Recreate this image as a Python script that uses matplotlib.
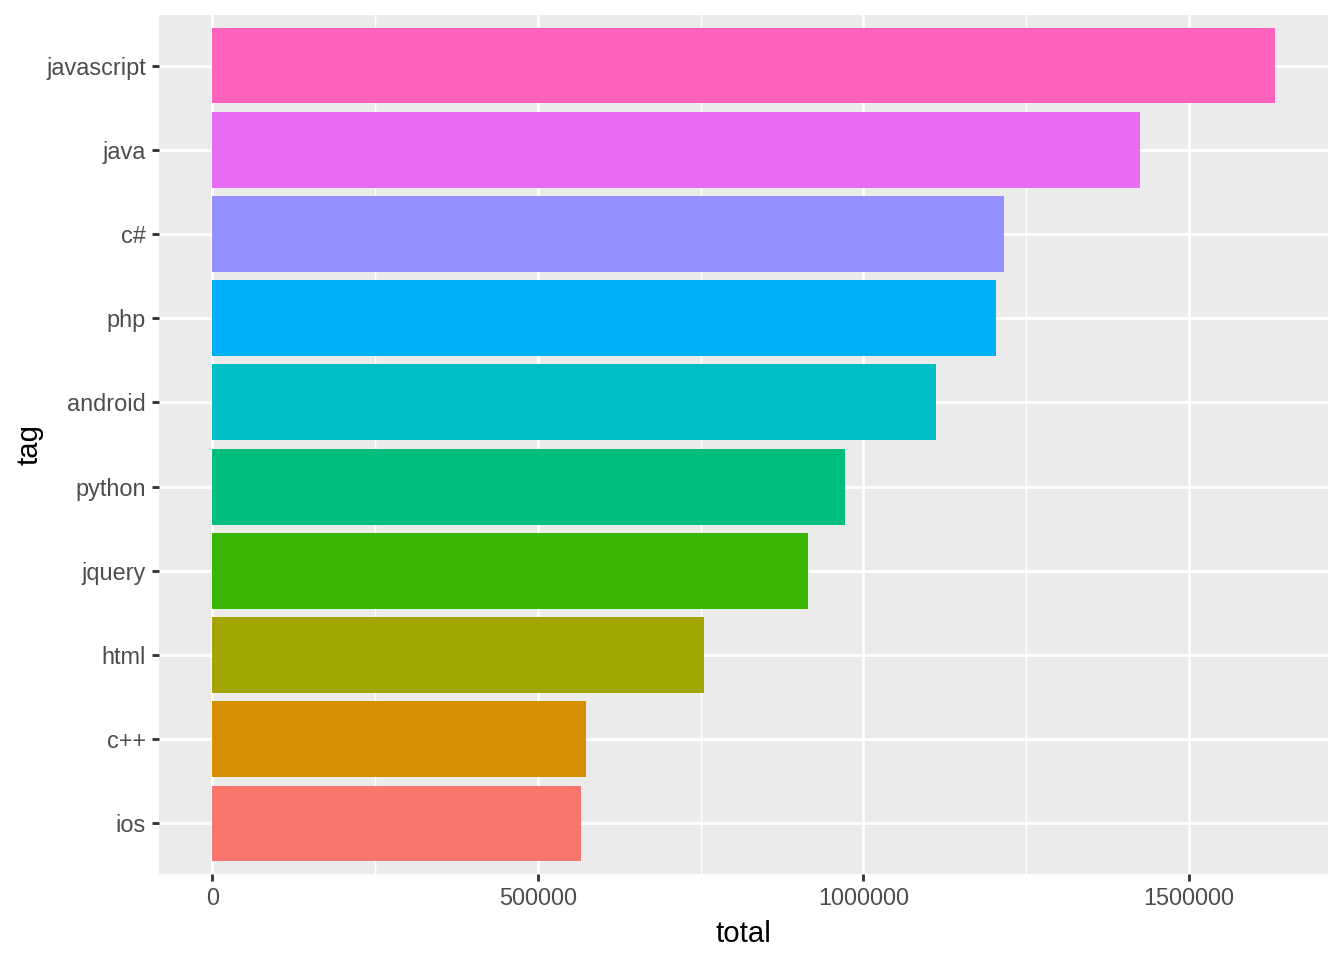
import matplotlib.pyplot as plt
from matplotlib.ticker import FixedLocator

# data (bottom to top)
tags = ["ios", "c++", "html", "jquery", "python", "android", "php", "c#", "java", "javascript"]
totals = [567000, 574600, 755400, 914800, 971500, 1110900, 1204400, 1216700, 1425000, 1632000]
colors = ["#F8766D", "#D89000", "#A3A500", "#39B600", "#00BF7D",
          "#00BFC4", "#00B0F6", "#9590FF", "#E76BF3", "#FF62BC"]

plt.rcParams['font.family'] = ['Liberation Sans', 'DejaVu Sans']

fig = plt.figure(figsize=(7, 5), dpi=192)
ax = fig.add_axes([159 / 1344, 1 - 874 / 960, (1328 - 159) / 1344, (874 - 15) / 960])
ax.set_facecolor("#EBEBEB")

pos = list(range(len(tags)))
ax.barh(pos, totals, height=0.9, color=colors, zorder=3)

xmax = max(totals)
ax.set_xlim(-0.05 * xmax, 1.05 * xmax)
ax.set_ylim(-0.6, len(tags) - 0.4)

ax.set_xticks([0, 500000, 1000000, 1500000])
ax.set_xticklabels(["0", "500000", "1000000", "1500000"])
ax.xaxis.set_minor_locator(FixedLocator([250000, 750000, 1250000]))
ax.set_yticks(pos)
ax.set_yticklabels(tags)

ax.grid(True, which="major", color="white", linewidth=1.07, zorder=1)
ax.grid(True, which="minor", axis="x", color="white", linewidth=0.53, zorder=1)
ax.set_axisbelow(True)

for s in ax.spines.values():
    s.set_visible(False)

ax.tick_params(which="major", length=2.75, width=1.07, color="#333333",
               labelcolor="#4D4D4D", labelsize=8.8, pad=2.2)
ax.tick_params(which="minor", length=0)

ax.set_xlabel("total", fontsize=11, color="black", labelpad=3.5)
ax.set_ylabel("tag", fontsize=11, color="black", labelpad=0.8)

fig.savefig("out.png", dpi=192)
